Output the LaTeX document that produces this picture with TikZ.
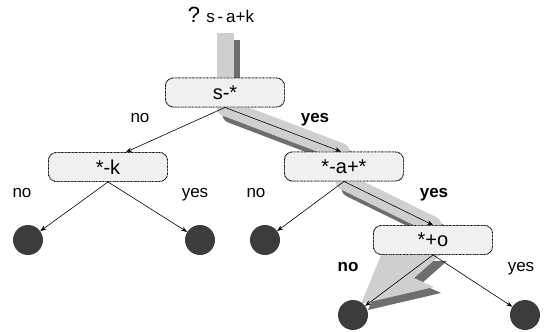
\documentclass[tikz,border=0pt]{standalone}
\usepackage{fontspec}
\setmainfont{Liberation Sans}
\usetikzlibrary{arrows.meta,calc}
\definecolor{bandlight}{HTML}{CFCFCF}
\definecolor{banddark}{HTML}{6E6E6E}
\definecolor{boxfill}{HTML}{F0F0F0}
\definecolor{leaffill}{HTML}{3C3C3C}
\tikzset{
  test/.style={draw=black, fill=boxfill, line width=0.9pt,
    dash pattern=on 0.7pt off 0.7pt, rounded corners=8pt,
    minimum width=119pt, minimum height=29pt, inner sep=0pt,
    font=\fontsize{20}{22}\selectfont},
  leaf/.style={circle, fill=leaffill, minimum size=30pt, inner sep=0pt},
  lbl/.style={anchor=base, inner sep=0pt, font=\fontsize{17}{19}\selectfont},
  lblb/.style={lbl, font=\fontsize{17}{19}\selectfont\bfseries},
  edge/.style={draw=black, line width=0.6pt, -{Stealth[length=6pt,width=4.5pt]}},
  band/.style={line width=17pt, line cap=round},
}
\begin{document}
\begin{tikzpicture}[x=1pt,y=-1pt]
\useasboundingbox (0,0) rectangle (544,332);

% decision nodes
\path
  (225,92.5) node[test] (s) {s-*}
  (108,167)  node[test] (k) {*-k}
  (344,166.5) node[test] (a) {*-a+*}
  (433,240)  node[test] (o) {*+o};
\coordinate (top) at (225,33);
\coordinate (d) at (6,7);

% highlighted path: shadow first, then the light band
\draw[band, banddark, line cap=butt] ($(top)+(d)$) -- ($(s.center)+(d)$);
\draw[band, banddark] ($(s.south)+(d)$) -- ($(a.north)+(-3,0)+(d)$);
\draw[band, banddark] ($(a.south)+(d)$) -- ($(o.north)+(d)$);
\fill[banddark, shift={(7,6)}] (381,255) -- (440,255) -- (414,278) -- (434,287) -- (361,304) -- cycle;
\draw[band, bandlight, line cap=butt] (top) -- (s.center);
\draw[band, bandlight] (s.south) -- ([xshift=-3pt]a.north);
\draw[band, bandlight] (a.south) -- (o.north);
\fill[bandlight] (381,255) -- (440,255) -- (414,278) -- (434,287) -- (361,304) -- cycle;

% boxes again, above the band
\path
  (225,92.5) node[test] {s-*}
  (108,167)  node[test] {*-k}
  (344,166.5) node[test] {*-a+*}
  (433,240)  node[test] {*+o};

% leaves
\node[leaf] (l1) at (28,240) {};
\node[leaf] (l2) at (200,240) {};
\node[leaf] (l3) at (265,240) {};
\node[leaf] (l4) at (353,315) {};
\node[leaf] (l5) at (525,315) {};

% connectors
\draw[edge] (s.south) -- ([xshift=18pt]k.north);
\draw[edge] (s.south) -- ([xshift=-3pt]a.north);
\draw[edge] (k.south) -- (l1);
\draw[edge] (k.south) -- (l2);
\draw[edge] (a.south) -- (l3);
\draw[edge] (a.south) -- (o.north);
\draw[edge] (o.south) -- (l4);
\draw[edge] (o.south) -- (l5);

% labels
\node[lbl] (q) at (221,23) {{\fontsize{22}{24}\selectfont ?} {\fontsize{17}{19}\selectfont s\,-\,a+k}};
\node[lbl]  (n1) at (140,122) {no};
\node[lblb] (y1) at (315,122) {yes};
\node[lbl]  (n2) at (22,197) {no};
\node[lbl]  (y2) at (195,197) {yes};
\node[lbl]  (n3) at (256,197) {no};
\node[lblb] (y3) at (434,197) {yes};
\node[lblb] (n4) at (348,271) {no};
\node[lbl]  (y4) at (521,271) {yes};
\end{tikzpicture}
\end{document}
